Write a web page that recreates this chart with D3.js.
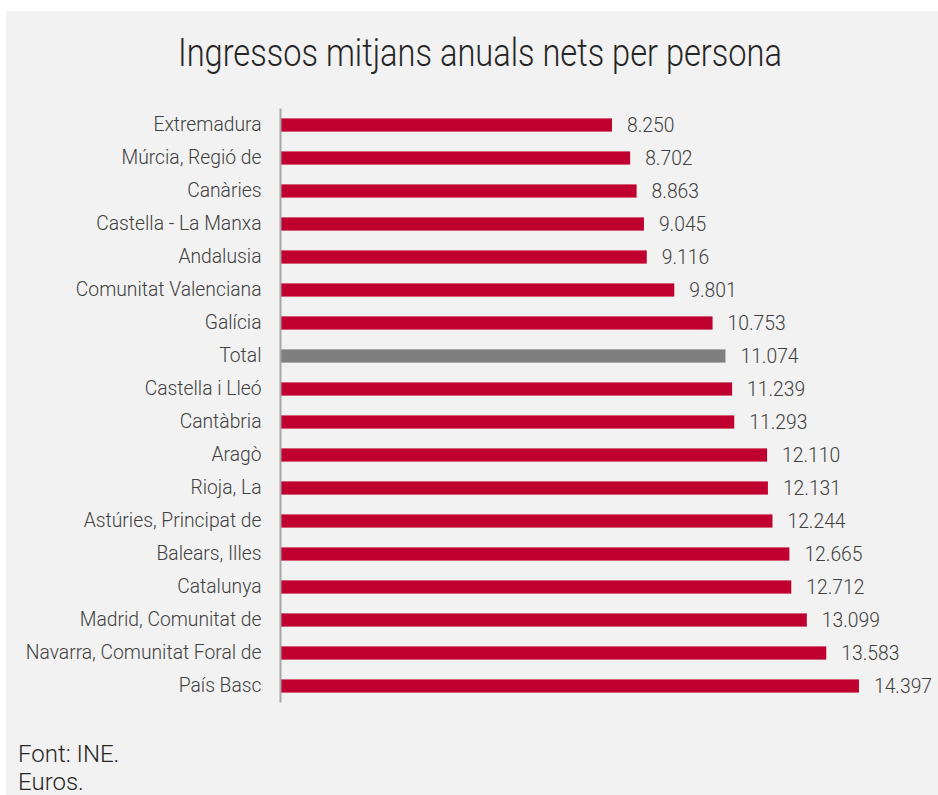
<!DOCTYPE html>
<html><head><meta charset="utf-8">
<script src="https://cdn.jsdelivr.net/npm/d3@7"></script>
<style>
html,body{margin:0;padding:0;background:#fff;}
text{font-family:Roboto,"Open Sans",sans-serif;font-weight:300;}
</style></head>
<body><svg id="c" width="938" height="795"></svg>
<script>
const categories = ["Extremadura","Múrcia, Regió de","Canàries","Castella - La Manxa","Andalusia","Comunitat Valenciana","Galícia","Total","Castella i Lleó","Cantàbria","Aragò","Rioja, La","Astúries, Principat de","Balears, Illes","Catalunya","Madrid, Comunitat de","Navarra, Comunitat Foral de","País Basc"];
const values = [8250,8702,8863,9045,9116,9801,10753,11074,11239,11293,12110,12131,12244,12665,12712,13099,13583,14397];
const valueLabels = ["8.250","8.702","8.863","9.045","9.116","9.801","10.753","11.074","11.239","11.293","12.110","12.131","12.244","12.665","12.712","13.099","13.583","14.397"];
const title = "Ingressos mitjans anuals nets per persona";
const notes = ["Font: INE.","Euros."];

const svg = d3.select("#c");
svg.append("rect").attr("x",6).attr("y",11).attr("width",940).attr("height",790).attr("fill","#f2f2f2");

const x = d3.scaleLinear().domain([0,16000]).range([280.5, 280.5+16000*0.04018]);
const y = d3.scaleBand().domain(categories).range([108.5,702.5]).paddingInner(0.6).paddingOuter(0.3);

const t = svg.append("text").attr("x",480).attr("y",66).attr("text-anchor","middle")
  .attr("font-size",38).attr("fill","#262626").text(title);
t.attr("textLength",604).attr("lengthAdjust","spacingAndGlyphs");

svg.append("g").selectAll("rect").data(categories).join("rect")
  .attr("x",x(0)).attr("y",d=>y(d)).attr("height",y.bandwidth())
  .attr("width",(d,i)=>x(values[i])-x(0))
  .attr("fill",d=>d==="Total"?"#7f7f7f":"#c0002f");

svg.append("g").selectAll("text").data(categories).join("text")
  .attr("x",(d,i)=>x(values[i])+15).attr("y",d=>y(d)+y.bandwidth()/2)
  .attr("dy","0.36em").attr("font-size",19.3).attr("fill","#404040")
  .text((d,i)=>valueLabels[i]);

const ax = svg.append("g").attr("transform",`translate(${x(0)},0)`)
  .call(d3.axisLeft(y).tickSize(0).tickPadding(19));
ax.select(".domain").attr("stroke","#a6a6a6").attr("stroke-width",2).attr("d","M0,108.5V702.5");
ax.selectAll("text").attr("font-size",19.3).attr("fill","#404040").attr("font-family","Roboto").attr("font-weight",300);

svg.append("g").selectAll("text").data(notes).join("text")
  .attr("x",18).attr("y",(d,i)=>762+i*28).attr("font-size",24).attr("fill","#262626").text(d=>d);
</script></body></html>
